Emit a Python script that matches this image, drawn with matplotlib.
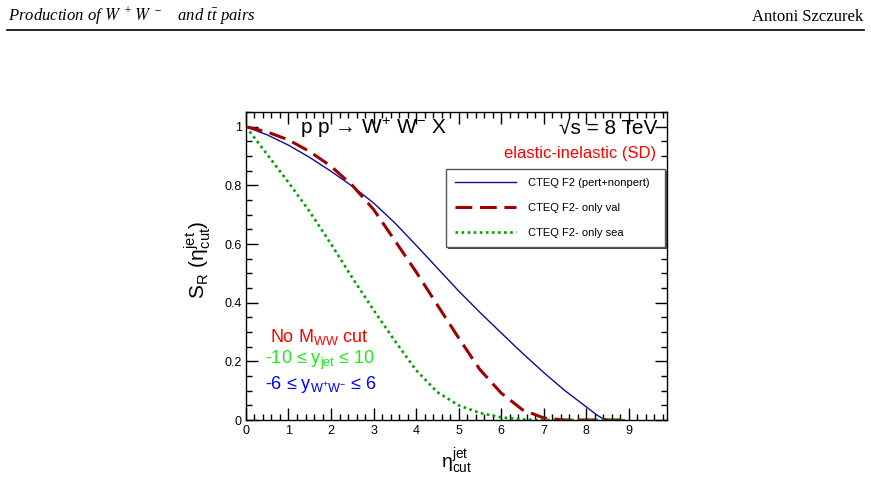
import numpy as np
import matplotlib
matplotlib.use("Agg")
import matplotlib.pyplot as plt
import matplotlib.patheffects as pe
from matplotlib.ticker import MultipleLocator

plt.rcParams['font.family'] = ['Liberation Sans', 'DejaVu Sans']
plt.rcParams['mathtext.default'] = 'regular'

## values
eta_full = [0, 0.5, 1, 1.5, 2, 2.5, 3, 3.5, 4, 4.5, 5, 5.5, 6, 6.5, 7, 7.5, 8, 8.25, 8.4, 8.6, 8.9]
s_full = [1.0, 0.972, 0.937, 0.895, 0.848, 0.797, 0.74, 0.672, 0.596, 0.518, 0.44, 0.367, 0.297,
          0.228, 0.162, 0.10, 0.045, 0.017, 0.004, 0.0, 0.0]

eta_val = [0, 0.5, 1, 1.5, 2, 2.5, 3, 3.5, 4, 4.5, 5, 5.5, 6, 6.5, 7, 7.5, 8, 8.9]
s_val = [1.0, 0.982, 0.955, 0.915, 0.865, 0.80, 0.718, 0.612, 0.505, 0.392, 0.28, 0.172, 0.092,
         0.035, 0.007, 0.0, 0.0, 0.0]

eta_sea = [0, 0.5, 1, 1.5, 2, 2.5, 3, 3.5, 4, 4.5, 5, 5.5, 6, 6.5, 7, 7.5, 8, 8.9]
s_sea = [1.0, 0.905, 0.81, 0.71, 0.60, 0.485, 0.375, 0.27, 0.17, 0.095, 0.05, 0.024, 0.009,
         0.002, 0.0, 0.0, 0.0, 0.0]

labels = ['CTEQ F2 (pert+nonpert)', 'CTEQ F2- only val', 'CTEQ F2- only sea']

fig = plt.figure(figsize=(8.71, 4.86), dpi=100)
ax = fig.add_axes([0.2824, 0.1358, 0.4834, 0.6337])

ax.plot(eta_full, s_full, color='#0c0c9c', lw=1.0, label=labels[0])
ax.plot(eta_val, s_val, color='#a00000', lw=2.2, dashes=(5.5, 2.5), label=labels[1])
ax.plot(eta_sea, s_sea, color='#00a000', lw=1.9, dashes=(1, 1.3), label=labels[2])

ax.set_xlim(0, 9.9)
ax.set_ylim(0, 1.05)
ax.xaxis.set_major_locator(MultipleLocator(1))
ax.xaxis.set_minor_locator(MultipleLocator(0.2))
ax.yaxis.set_minor_locator(MultipleLocator(0.05))
ax.set_yticks([0, 0.2, 0.4, 0.6, 0.8, 1.0])
ax.set_yticklabels(['0', '0.2', '0.4', '0.6', '0.8', '1'])
ax.tick_params(which='both', direction='in', top=True, right=True, labelsize=9, width=1.0)
ax.tick_params(which='major', length=8.5)
ax.tick_params(which='minor', length=4.3)
ax.tick_params(axis='x', pad=3.5)
ax.tick_params(axis='y', pad=3)
for sp in ax.spines.values():
    sp.set_linewidth(1.0)

ax.set_xlabel(r'$\eta^{jet}_{cut}$', fontsize=14)
ax.xaxis.set_label_coords(0.5, -0.085)
ax.set_ylabel(r'$S_{R}\ (\eta^{jet}_{cut})$', fontsize=15)
ax.yaxis.set_label_coords(-0.078, 0.52)

ax.text(0.128, 0.929, 'p p → W$^{+}$ W$^{-}$ X', transform=ax.transAxes,
        fontsize=15, va='baseline', ha='left')
ax.text(0.976, 0.929, '√s = 8 TeV', transform=ax.transAxes,
        fontsize=15, va='baseline', ha='right')
ax.text(0.975, 0.85, 'elastic-inelastic (SD)', transform=ax.transAxes,
        fontsize=12, va='baseline', ha='right', color='#ff0000')

ax.text(0.057, 0.254, 'No M$_{WW}$ cut', transform=ax.transAxes,
        fontsize=13, va='baseline', color='#ff0000')
ax.text(0.045, 0.181, '-10 ≤ y$_{jet}$ ≤ 10', transform=ax.transAxes,
        fontsize=13, va='baseline', color='#1ee81e')
ax.text(0.045, 0.10, '-6 ≤ y$_{W^{+}W^{-}}$ ≤ 6', transform=ax.transAxes,
        fontsize=13, va='baseline', color='#0000ff')

leg = ax.legend(loc='upper left', bbox_to_anchor=(0.475, 0.558, 0.52, 0.257), mode='expand',
                fontsize=8, frameon=True, fancybox=False, framealpha=1.0, borderaxespad=0,
                handlelength=5.5, handletextpad=1.1, labelspacing=1.35, borderpad=0.8)
frame = leg.get_frame()
frame.set_facecolor('white')
frame.set_edgecolor('#555555')
frame.set_linewidth(1.0)
frame.set_path_effects([pe.SimplePatchShadow(offset=(1.6, -1.6), shadow_rgbFace='#444444', alpha=1.0),
                        pe.Normal()])

## header of the page
fig.text(0.009, 0.957,
         r'Production of $\mathit{W}^{\;+\,}\mathit{W}^{\;-}$$\quad\,$and $t\bar{t}$ pairs',
         fontsize=12, family='Liberation Serif', style='italic', va='baseline', ha='left',
         math_fontfamily='stix')
fig.text(0.991, 0.957, 'Antoni Szczurek', fontsize=12,
         family='Liberation Serif', va='baseline', ha='right')
fig.add_artist(plt.Line2D([0.008, 0.992], [0.938, 0.938], color='black', lw=1.2,
                          transform=fig.transFigure))

fig.savefig('out.png', dpi=100)
